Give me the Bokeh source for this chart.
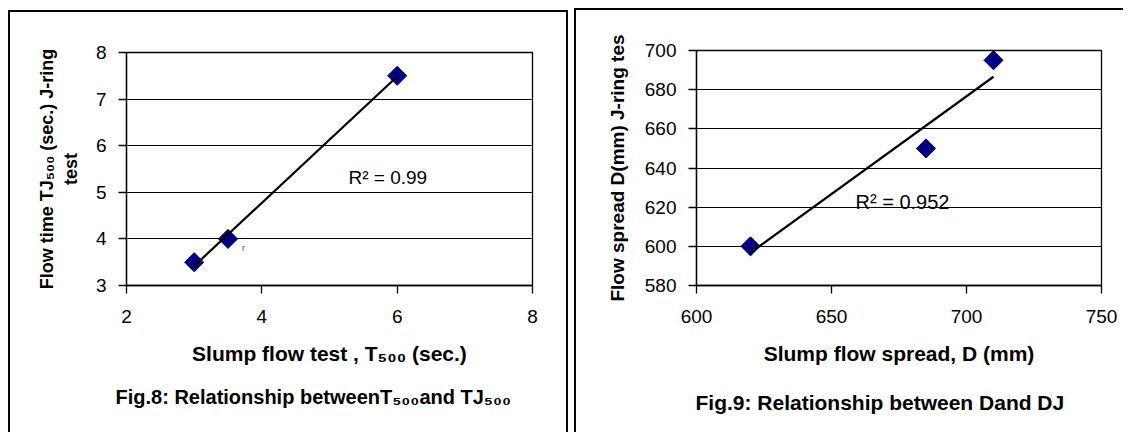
import math
import numpy as np
from bokeh.plotting import figure
from bokeh.layouts import row
from bokeh.models import Label, Range1d, FixedTicker, Title
from bokeh.embed import file_html
from bokeh.resources import INLINE

# ---------------- data: Fig. 8 ----------------
fig8_t500 = [3.0, 3.5, 6.0]          # Slump flow test T500 (sec.)
fig8_tj500 = [3.5, 4.0, 7.5]         # J-ring flow time TJ500 (sec.)
fig8_r2 = "R² = 0.99"
fig8_x_ticks = [2, 4, 6, 8]
fig8_y_ticks = [3, 4, 5, 6, 7, 8]
fig8_x_range = (2, 8)
fig8_y_range = (3, 8)
fig8_xlabel = "Slump flow test , T₅₀₀ (sec.)"
fig8_ylabel = "Flow time TJ₅₀₀ (sec.) J-ring\ntest"
fig8_caption = "Fig.8: Relationship betweenT₅₀₀and TJ₅₀₀"
fig8_stray = ("r", 3.73, 3.81)       # stray glyph in the source figure

# ---------------- data: Fig. 9 ----------------
fig9_d = [620, 685, 710]             # Slump flow spread D (mm)
fig9_dj = [600, 650, 695]            # J-ring flow spread DJ (mm)
fig9_r2 = "R² = 0.952"
fig9_x_ticks = [600, 650, 700, 750]
fig9_y_ticks = [580, 600, 620, 640, 660, 680, 700]
fig9_x_range = (600, 750)
fig9_y_range = (580, 700)
fig9_xlabel = "Slump flow spread, D (mm)"
fig9_ylabel = "Flow spread D(mm) J-ring tes"
fig9_caption = "Fig.9: Relationship between Dand DJ"

# ---------------- styling / layout constants ----------------
FONT = "Liberation Sans"
MARKER_FILL = "#000080"
MARKER_LINE = "#00006a"
BORDER = "2px solid black"

# Arial/Liberation Sans Bold advance widths (1/1000 em), used to place captions
BOLD_W = {" ": 278, "(": 333, ")": 333, ",": 278, "-": 333, ".": 278, ":": 333,
          "0": 556, "1": 556, "2": 556, "3": 556, "4": 556, "5": 556, "6": 556,
          "7": 556, "8": 556, "9": 556, "D": 722, "F": 611, "J": 556, "R": 722,
          "S": 667, "T": 611, "a": 556, "b": 611, "c": 556, "d": 611, "e": 556,
          "f": 333, "g": 611, "h": 611, "i": 278, "l": 278, "m": 889, "n": 611,
          "o": 611, "p": 611, "r": 389, "s": 556, "t": 333, "u": 611, "w": 778,
          "₀": 420, "₅": 420}


def text_width(s, size):
    return sum(BOLD_W.get(c, 556) for c in s) / 1000.0 * size


def make_panel(canvas_x, canvas_y, width, height, frame, xr, yr, xticks, yticks,
               margin, styles):
    fl, fr, ft, fb = frame  # page coordinates of the plot area
    p = figure(width=width, height=height, x_range=Range1d(*xr), y_range=Range1d(*yr),
               output_backend="svg", toolbar_location=None, title=None,
               min_border_left=fl - canvas_x, min_border_right=canvas_x + width - fr,
               min_border_top=ft - canvas_y, min_border_bottom=canvas_y + height - fb,
               margin=margin, styles=styles)
    p.background_fill_color = "white"
    p.border_fill_color = "white"
    p.outline_line_color = "black"
    p.outline_line_width = 1.3
    p.xgrid.visible = False
    p.xaxis.ticker = FixedTicker(ticks=xticks)
    p.yaxis.ticker = FixedTicker(ticks=yticks)
    p.ygrid.grid_line_color = "black"
    p.ygrid.grid_line_width = 1.2
    for ax in (p.xaxis, p.yaxis):
        ax.axis_line_color = "black"
        ax.axis_line_width = 1.3
        ax.major_tick_line_color = "black"
        ax.major_tick_line_width = 1.3
        ax.major_tick_in = 0
        ax.major_tick_out = 8
        ax.minor_tick_line_color = None
        ax.major_label_text_font = FONT
        ax.major_label_text_font_size = "19px"
        ax.major_label_text_color = "black"
        ax.axis_label_text_font = FONT
        ax.axis_label_text_font_style = "bold"
        ax.axis_label_text_color = "black"
    p.xaxis.major_label_standoff = 16
    p.yaxis.major_label_standoff = 12
    p.xaxis.axis_label_text_font_size = "21px"
    p.xaxis.axis_label_standoff = 16
    p.yaxis.axis_label_text_font_size = "19px"

    def to_data(px, py):
        x = xr[0] + (px - fl) / (fr - fl) * (xr[1] - xr[0])
        y = yr[0] + (fb - py) / (fb - ft) * (yr[1] - yr[0])
        return x, y

    return p, to_data


def add_label(p, to_data, px, py, text, size):
    x, y = to_data(px, py)
    p.add_layout(Label(x=x, y=y, text=text, text_font=FONT, text_font_size=f"{size}px",
                       text_align="left", text_baseline="alphabetic", text_color="black"))


def add_caption(p, text, size, center_px, frame_left, standoff):
    w = text_width(text, size)
    p.add_layout(Title(text=text, align="left", offset=round(center_px - w / 2 - frame_left),
                       text_font=FONT, text_font_size=f"{size}px", text_font_style="bold",
                       text_color="black", standoff=standoff), "below")


# ================= Fig. 8 =================
F8 = (126, 532, 52, 286)
p1, m1 = make_panel(10, 12, 560, 422, F8, fig8_x_range, fig8_y_range,
                    fig8_x_ticks, fig8_y_ticks, margin=(10, 0, 0, 8),
                    styles={"border-left": BORDER, "border-top": BORDER, "border-right": BORDER})
p1.scatter(fig8_t500, fig8_tj500, marker="square", angle=math.pi / 4, size=13.5,
           fill_color=MARKER_FILL, line_color=MARKER_LINE, line_width=1)
k8, b8 = np.polyfit(fig8_t500, fig8_tj500, 1)
xs8 = [min(fig8_t500), max(fig8_t500)]
p1.line(xs8, [k8 * x + b8 for x in xs8], line_color="black", line_width=2.2)
add_label(p1, m1, 348, 178, fig8_r2, 19)
p1.add_layout(Label(x=fig8_stray[1], y=fig8_stray[2], text=fig8_stray[0], text_font=FONT,
                    text_font_size="9px", text_color="#555555",
                    text_align="center", text_baseline="middle"))
p1.xaxis.axis_label = fig8_xlabel
p1.yaxis.axis_label = fig8_ylabel
p1.yaxis.axis_label_text_font_size = "18px"
p1.yaxis.axis_label_standoff = 12
add_caption(p1, fig8_caption, 20, 311, F8[0], 33)

# ================= Fig. 9 =================
F9 = (700, 1105, 48, 285)
p2, m2 = make_panel(580, 10, 549, 424, F9, fig9_x_range, fig9_y_range,
                    fig9_x_ticks, fig9_y_ticks, margin=(8, 0, 0, 6),
                    styles={"border-left": BORDER, "border-top": BORDER})
p2.scatter(fig9_d, fig9_dj, marker="square", angle=math.pi / 4, size=13.5,
           fill_color=MARKER_FILL, line_color=MARKER_LINE, line_width=1)
k9, b9 = np.polyfit(fig9_d, fig9_dj, 1)
xs9 = [min(fig9_d), max(fig9_d)]
p2.line(xs9, [k9 * x + b9 for x in xs9], line_color="black", line_width=2.2)
add_label(p2, m2, 859, 201, fig9_r2, 20)
p2.xaxis.axis_label = fig9_xlabel
p2.yaxis.axis_label = fig9_ylabel
p2.yaxis.axis_label_standoff = 14
add_caption(p2, fig9_caption, 21, 883, F9[0], 42)

layout = row(p1, p2)
open("out.html", "w").write(file_html(layout, INLINE))
